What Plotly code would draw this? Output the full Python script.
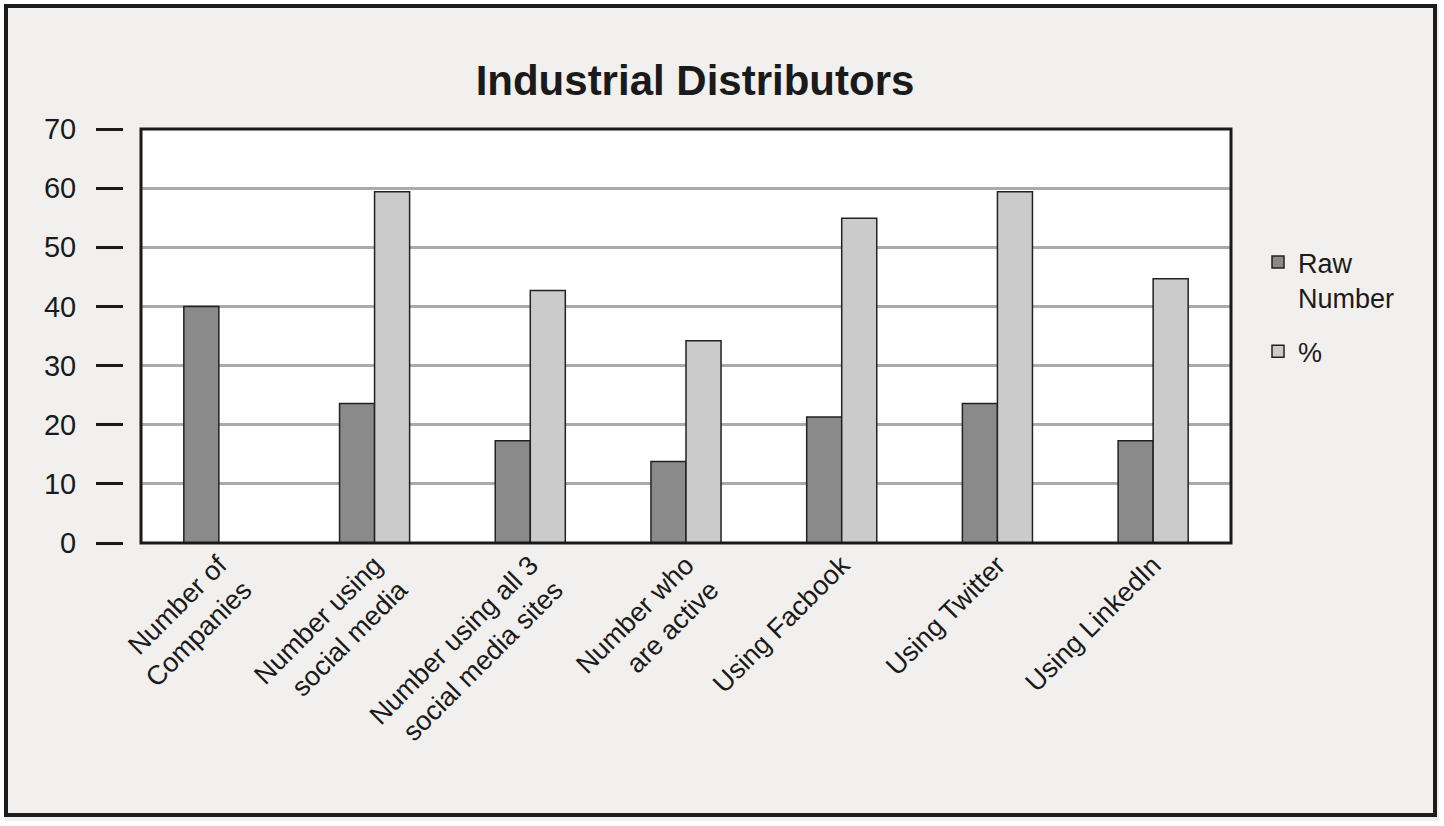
import plotly.graph_objects as go

categories = [
    "Number of<br>Companies",
    "Number using<br>social media",
    "Number using all 3<br>social media sites",
    "Number who<br>are active",
    "Using Facbook",
    "Using Twitter",
    "Using LinkedIn",
]
raw_number = [40, 23.6, 17.3, 13.8, 21.3, 23.6, 17.3]
percent = [None, 59.4, 42.7, 34.2, 54.9, 59.4, 44.7]
y_ticks = [0, 10, 20, 30, 40, 50, 60, 70]

W, H = 1444, 826
FONT = "Liberation Sans, Arial, sans-serif"
TXT = "#1a1a1a"

def px_x(p):
    return p / W

def px_y(p):
    return 1 - p / H

fig = go.Figure()
fig.add_trace(go.Bar(
    x=categories, y=raw_number, name="Raw<br>Number",
    marker=dict(color="#8a8a8a", line=dict(color="#222222", width=1.5)),
    legendgroup="a",
))
fig.add_trace(go.Bar(
    x=categories, y=percent, name="%",
    marker=dict(color="#cbcbcb", line=dict(color="#222222", width=1.5)),
    legendgroup="b",
))

fig.update_layout(
    width=W, height=H,
    margin=dict(l=0, r=0, t=0, b=0, pad=0, autoexpand=False),
    paper_bgcolor="#f1f0ef",
    plot_bgcolor="#ffffff",
    barmode="group",
    bargap=0.55,
    bargroupgap=0,
    font=dict(family=FONT, color=TXT, size=28),
    title=dict(
        text="<b>Industrial Distributors</b>",
        x=px_x(695), xanchor="center", xref="paper",
        y=px_y(80), yanchor="middle", yref="paper",
        font=dict(family=FONT, size=42, color=TXT),
    ),
    xaxis=dict(
        domain=[px_x(141), px_x(1231)],
        anchor="y",
        showgrid=False, showline=False, zeroline=False,
        ticks="", tickangle=-45,
        tickfont=dict(family=FONT, size=27, color=TXT),
    ),
    yaxis=dict(
        domain=[px_y(543), px_y(129)],
        range=[0, 70],
        anchor="free", position=px_x(123),
        tickvals=y_ticks,
        showgrid=True, gridcolor="#aaaaaa", gridwidth=2.5,
        zeroline=False, showline=False,
        ticks="outside", ticklen=27, tickwidth=3, tickcolor=TXT,
        ticklabelstandoff=14,
        tickfont=dict(family=FONT, size=29, color=TXT),
    ),
    legend=dict(
        x=px_x(1258), y=px_y(238), xanchor="left", yanchor="top",
        bgcolor="rgba(0,0,0,0)", valign="top",
        traceorder="grouped", tracegroupgap=16,
        font=dict(family=FONT, size=27, color=TXT),
    ),
    shapes=[
        dict(type="rect", xref="paper", yref="paper",
             x0=0, x1=1, y0=0, y1=1,
             line=dict(color="#ffffff", width=10), layer="below"),
        dict(type="rect", xref="paper", yref="paper",
             x0=px_x(6), x1=px_x(1435), y0=px_y(815), y1=px_y(6),
             line=dict(color="#1c1c1c", width=4), layer="above"),
        dict(type="rect", xref="x domain", yref="y domain",
             x0=0, x1=1, y0=0, y1=1,
             line=dict(color="#1a1a1a", width=3), layer="above"),
    ],
)

fig.write_html(
    "out.html",
    config={"displayModeBar": False},
    post_script="document.body.style.margin='0';",
)
